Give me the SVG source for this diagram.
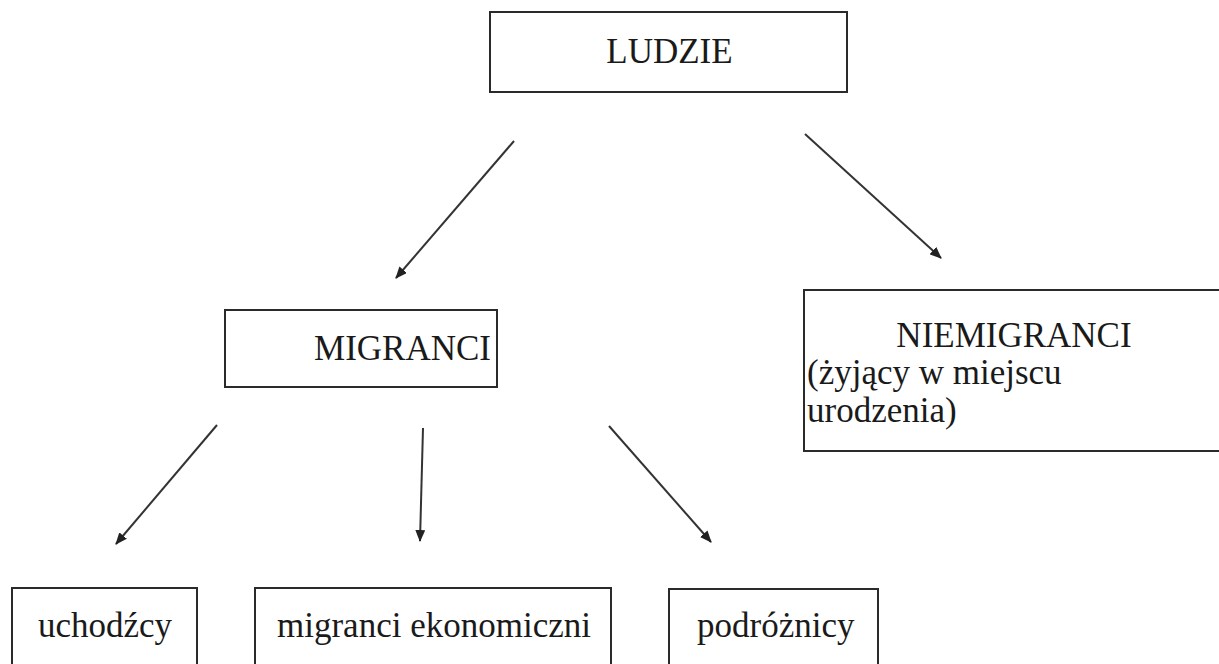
<svg xmlns="http://www.w3.org/2000/svg" width="1219" height="664" viewBox="0 0 1219 664">
<defs>
<style>
.box{fill:#fff;stroke:#2a2a2a;stroke-width:2}
.t{font-family:"Liberation Serif","Times New Roman",Tinos,"DejaVu Serif",serif;font-size:35px;fill:#1a1a1a}
.c{text-anchor:middle}
.ln{stroke:#333;stroke-width:2;fill:none;marker-end:url(#ah)}
</style>
<marker id="ah" viewBox="0 0 12 10" refX="11" refY="5" markerWidth="12" markerHeight="10" markerUnits="userSpaceOnUse" orient="auto">
<path d="M0,0 L12,5 L0,10 z" fill="#222"/>
</marker>
</defs>
<rect width="1219" height="664" fill="#fff"/>
<g id="ludzie">
<rect class="box" x="490" y="12" width="357" height="80"/>
<text class="t c" x="669.5" y="63">LUDZIE</text>
</g>
<g id="migranci">
<rect class="box" x="225" y="310" width="272" height="77"/>
<text class="t c" x="402.5" y="360">MIGRANCI</text>
</g>
<g id="niemigranci">
<rect class="box" x="804" y="290" width="430" height="161"/>
<text class="t c" x="1014" y="347">NIEMIGRANCI</text>
<text class="t" x="807" y="384">(żyjący w miejscu</text>
<text class="t" x="807" y="422">urodzenia)</text>
</g>
<g id="uchodzcy">
<rect class="box" x="12" y="588" width="185" height="90"/>
<text class="t" x="38" y="637">uchodźcy</text>
</g>
<g id="migranci-ekonomiczni">
<rect class="box" x="255" y="588" width="356" height="90"/>
<text class="t" x="277" y="637">migranci ekonomiczni</text>
</g>
<g id="podroznicy">
<rect class="box" x="669" y="589" width="209" height="90"/>
<text class="t" x="697" y="637">podróżnicy</text>
</g>
<g id="connectors">
<line class="ln" x1="514" y1="141" x2="396" y2="278"/>
<line class="ln" x1="805" y1="134" x2="941" y2="258"/>
<line class="ln" x1="217" y1="425" x2="116" y2="544"/>
<line class="ln" x1="423" y1="428" x2="420" y2="541"/>
<line class="ln" x1="609" y1="426" x2="711" y2="542"/>
</g>
</svg>
